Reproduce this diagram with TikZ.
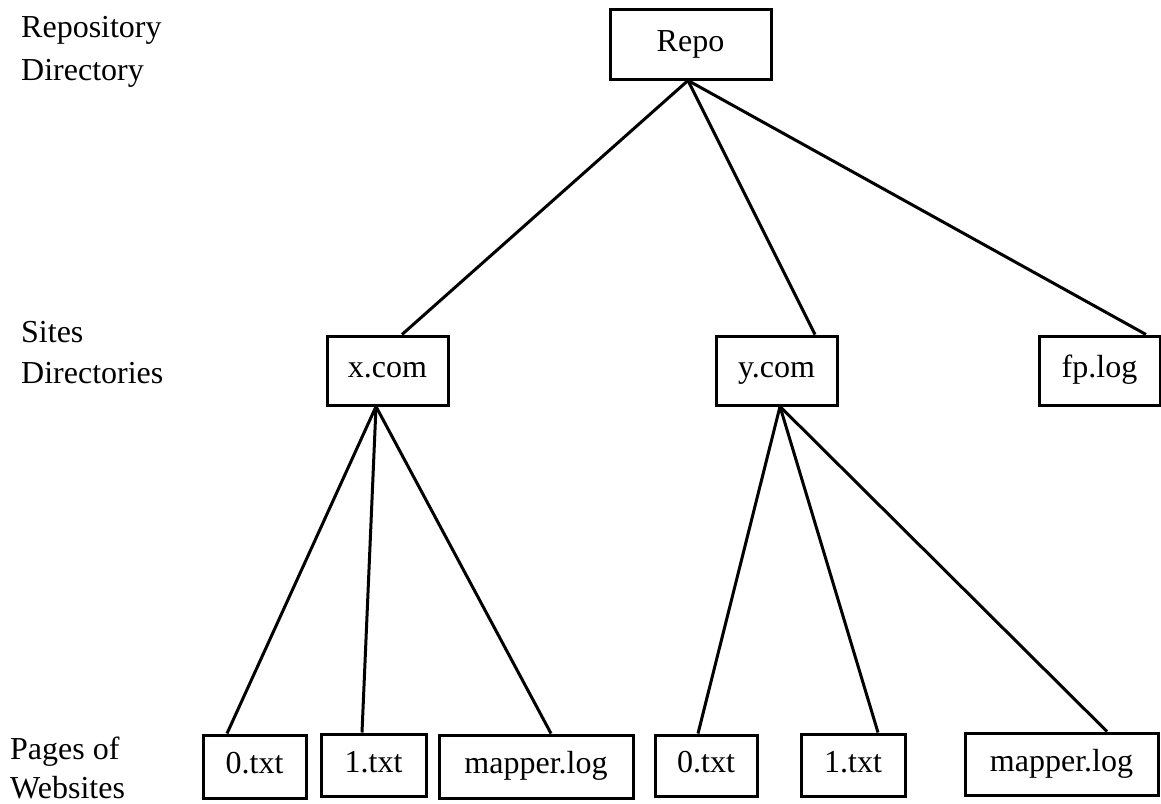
\documentclass[tikz,border=0pt]{standalone}
\usepackage{fontspec}
\setmainfont{Liberation Serif}
\begin{document}
\begin{tikzpicture}[x=1pt,y=-1pt,
  every node/.style={font=\fontsize{32}{40}\selectfont},
  filebox/.style={draw=black,line width=3pt,rectangle,inner sep=0pt,
    text height=21pt,text depth=7pt},
  link/.style={draw=black,line width=3pt},
  levellabel/.style={anchor=base west,inner sep=0pt}]
\useasboundingbox (0,0) rectangle (1161,803);

% level captions
\node[levellabel] (capRa) at (21,37) {Repository};
\node[levellabel] (capRb) at (21,80) {Directory};
\node[levellabel] (capSa) at (21,342) {Sites};
\node[levellabel] (capSb) at (21,383) {Directories};
\node[levellabel] (capPa) at (10,759) {Pages of};
\node[levellabel] (capPb) at (10,798) {Websites};

% directory tree
\node[filebox,minimum width=161pt,minimum height=70pt] (repo) at (690.5,44) {Repo};
\node[filebox,minimum width=121pt,minimum height=69pt] (xcom) at (387.5,370.5) {x.com};
\node[filebox,minimum width=121pt,minimum height=69pt] (ycom) at (776.5,370.5) {y.com};
\node[filebox,minimum width=121pt,minimum height=69pt] (fplog) at (1099.5,370.5) {fp.log};

\node[filebox,minimum width=103pt,minimum height=63pt] (xzero) at (254.5,766.5) {0.txt};
\node[filebox,minimum width=105pt,minimum height=62pt] (xone) at (373.5,765) {1.txt};
\node[filebox,minimum width=194pt,minimum height=63pt] (xmap) at (536,766.5) {mapper.log};
\node[filebox,minimum width=102pt,minimum height=61pt] (yzero) at (706,765.5) {0.txt};
\node[filebox,minimum width=104pt,minimum height=62pt] (yone) at (853,765) {1.txt};
\node[filebox,minimum width=193pt,minimum height=62pt] (ymap) at (1061.5,764) {mapper.log};

% edges
\draw[link] ([xshift=-2.5pt]repo.south) -- ([xshift=14.5pt]xcom.north);
\draw[link] ([xshift=-2.5pt]repo.south) -- ([xshift=38.5pt]ycom.north);
\draw[link] ([xshift=-2.5pt]repo.south) -- ([xshift=46.5pt]fplog.north);

\draw[link] ([xshift=-11.5pt]xcom.south) -- ([xshift=-27.5pt]xzero.north);
\draw[link] ([xshift=-11.5pt]xcom.south) -- ([xshift=-11.5pt]xone.north);
\draw[link] ([xshift=-11.5pt]xcom.south) -- ([xshift=15pt]xmap.north);

\draw[link] ([xshift=3.5pt]ycom.south) -- ([xshift=-8pt]yzero.north);
\draw[link] ([xshift=3.5pt]ycom.south) -- ([xshift=25pt]yone.north);
\draw[link] ([xshift=3.5pt]ycom.south) -- ([xshift=45.5pt]ymap.north);
\end{tikzpicture}
\end{document}
